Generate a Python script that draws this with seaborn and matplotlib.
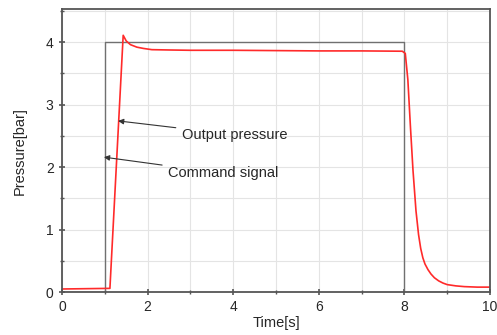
import matplotlib
matplotlib.use("Agg")
import matplotlib.pyplot as plt
import seaborn as sns
import pandas as pd
from matplotlib.ticker import MultipleLocator

# Command signal (step)
cmd_t = [0.0, 1.0, 1.0, 8.0, 8.0, 10.0]
cmd_p = [0.0, 0.0, 4.0, 4.0, 0.0, 0.0]

# Output pressure
out_t = [0.0, 1.12, 1.43, 1.5, 1.6, 1.75, 1.9, 2.1, 2.5, 3.0, 4.0, 5.0, 6.0, 7.0, 7.95,
         8.02, 8.08, 8.14, 8.2, 8.27, 8.33, 8.38, 8.43, 8.48, 8.55, 8.62, 8.7, 8.8, 8.9,
         9.0, 9.2, 9.4, 9.7, 10.0]
out_p = [0.05, 0.06, 4.11, 4.02, 3.96, 3.92, 3.90, 3.88, 3.875, 3.87, 3.87, 3.865, 3.86, 3.86, 3.855,
         3.82, 3.4, 2.65, 1.95, 1.3, 0.92, 0.7, 0.55, 0.45, 0.36, 0.29, 0.23, 0.18, 0.145,
         0.12, 0.1, 0.088, 0.08, 0.08]

df_cmd = pd.DataFrame({"t": cmd_t, "p": cmd_p})
df_out = pd.DataFrame({"t": out_t, "p": out_p})

sns.set_style("white")
plt.rcParams['font.family'] = ['Liberation Sans', 'DejaVu Sans']

fig = plt.figure(figsize=(4.97, 3.35), dpi=100)
ax = fig.add_axes([0.1247, 0.128, 0.8613, 0.845])

sns.lineplot(data=df_cmd, x="t", y="p", ax=ax, color="#707070", lw=1.0, sort=False, estimator=None)
sns.lineplot(data=df_out, x="t", y="p", ax=ax, color="#ff2a2a", lw=1.2, sort=False, estimator=None)

ax.set_xlim(0, 10)
ax.set_ylim(0, 4.53)
ax.xaxis.set_major_locator(MultipleLocator(2))
ax.xaxis.set_minor_locator(MultipleLocator(1))
ax.yaxis.set_major_locator(MultipleLocator(1))
ax.yaxis.set_minor_locator(MultipleLocator(0.5))
ax.grid(True, which="both", color="#e4e4e4", lw=0.8)
ax.set_axisbelow(True)
for s in ax.spines.values():
    s.set_color("#555555")
    s.set_linewidth(1.3)
ax.tick_params(which="major", direction="inout", length=5, width=1.2, color="#555555",
               labelsize=10, bottom=True, left=True)
ax.tick_params(which="minor", direction="inout", length=3, width=1.0, color="#555555",
               bottom=True, left=True)
ax.set_xlabel("Time[s]", fontsize=10.5, labelpad=1)
ax.set_ylabel("Pressure[bar]", fontsize=10.5, labelpad=14)

ax.annotate("Output pressure", xy=(1.31, 2.74), xytext=(2.8, 2.52), fontsize=10.5,
            va="center", ha="left",
            arrowprops=dict(arrowstyle="-|>", color="#333333", lw=0.8, mutation_scale=8,
                            shrinkA=2, shrinkB=0))
ax.annotate("Command signal", xy=(0.98, 2.16), xytext=(2.48, 1.9), fontsize=10.5,
            va="center", ha="left",
            arrowprops=dict(arrowstyle="-|>", color="#333333", lw=0.8, mutation_scale=8,
                            shrinkA=2, shrinkB=0))

fig.savefig("out.png", dpi=100)
